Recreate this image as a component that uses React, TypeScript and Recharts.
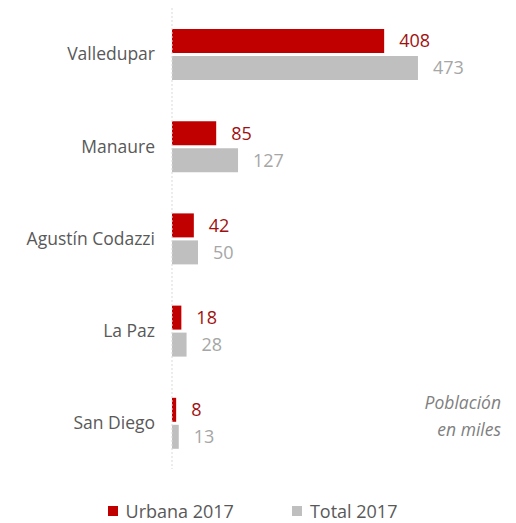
import { BarChart, Bar, XAxis, YAxis, Legend, LabelList } from 'recharts'

const municipios = ['Valledupar', 'Manaure', 'Agustín Codazzi', 'La Paz', 'San Diego']
const urbana2017 = [408, 85, 42, 18, 8]
const total2017 = [473, 127, 50, 28, 13]

const seriesNames = ['Urbana 2017', 'Total 2017']
const nota = ['Población', 'en miles']

const RED = '#C00000'
const GRAY = '#BFBFBF'
const FONT = '"Open Sans", "Noto Sans", sans-serif'

const data = municipios.map((name, i) => ({
  name,
  urbana: urbana2017[i],
  total: total2017[i],
}))

function LegendContent() {
  const items = [
    { label: seriesNames[0], color: RED },
    { label: seriesNames[1], color: GRAY },
  ]
  return (
    <div style={{ display: 'flex', justifyContent: 'center', gap: 58, fontFamily: FONT, paddingLeft: 21 }}>
      {items.map((it) => (
        <div key={it.label} style={{ display: 'flex', alignItems: 'center', gap: 8 }}>
          <div style={{ width: 10, height: 10, background: it.color }} />
          <span style={{ fontSize: 18, color: '#595959' }}>{it.label}</span>
        </div>
      ))}
    </div>
  )
}

export default function App() {
  return (
    <div style={{ position: 'absolute', left: 0, top: 0, width: 516, height: 523, background: '#fff' }}>
      <BarChart
        width={516}
        height={523}
        data={data}
        layout="vertical"
        margin={{ top: 8, right: 32, left: 0, bottom: 30 }}
        barSize={24}
        barGap={3}
      >
        <XAxis type="number" domain={[0, 600]} hide />
        <YAxis
          type="category"
          dataKey="name"
          width={172}
          tickSize={0}
          tickMargin={17}
          tick={{ fill: '#595959', fontSize: 17.5, fontFamily: FONT }}
          axisLine={{ stroke: '#D9D9D9', strokeDasharray: '2 2' }}
          tickLine={false}
        />
        <Legend verticalAlign="bottom" content={<LegendContent />} wrapperStyle={{ bottom: 0 }} />
        <Bar dataKey="urbana" name={seriesNames[0]} fill={RED} isAnimationActive={false}>
          <LabelList dataKey="urbana" position="right" offset={15} fill="#A01010" fontSize={18} fontFamily={FONT} />
        </Bar>
        <Bar dataKey="total" name={seriesNames[1]} fill={GRAY} isAnimationActive={false}>
          <LabelList dataKey="total" position="right" offset={15} fill="#A6A6A6" fontSize={18} fontFamily={FONT} />
        </Bar>
      </BarChart>
      <div
        style={{
          position: 'absolute',
          right: 15,
          top: 389,
          textAlign: 'right',
          fontFamily: FONT,
          fontStyle: 'italic',
          fontSize: 17.5,
          lineHeight: '27px',
          color: '#7F7F7F',
        }}
      >
        {nota.map((t) => (
          <div key={t}>{t}</div>
        ))}
      </div>
    </div>
  )
}
